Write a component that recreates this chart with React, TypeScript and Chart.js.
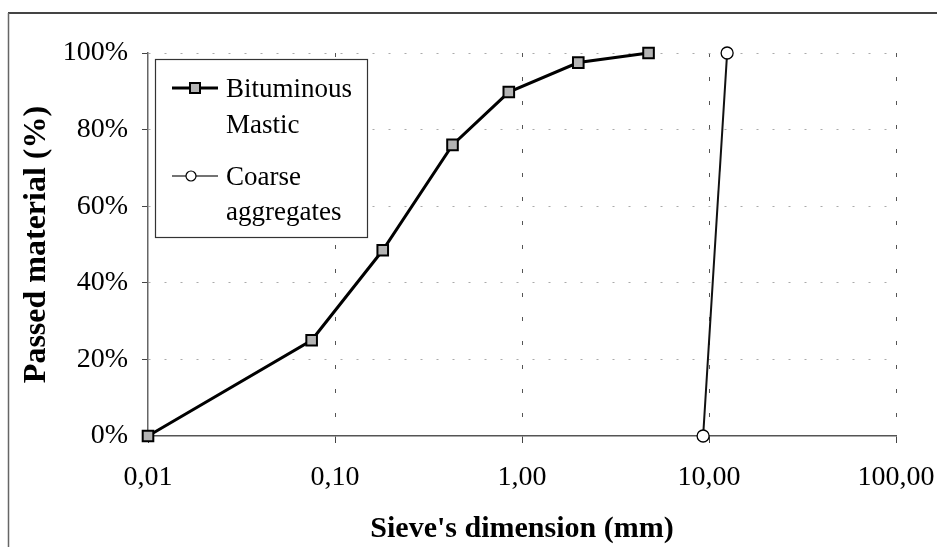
import React, { useEffect, useRef } from 'react';
import { Chart, registerables } from 'chart.js';

Chart.register(...registerables);

// ---- data ----
const seriesNames = ['Bituminous Mastic', 'Coarse aggregates'];
const legendLabels = [['Bituminous', 'Mastic'], ['Coarse', 'aggregates']];
const masticSizes = [0.01, 0.075, 0.18, 0.425, 0.85, 2.0, 4.75];
const masticPassed = [0, 25, 48.5, 76, 89.8, 97.5, 100];
const coarseSizes = [9.3, 12.5];
const coarsePassed = [0, 100];
const xTickValues = [0.01, 0.1, 1, 10, 100];
const yTickStep = 20;
const xTitle = "Sieve's dimension (mm)";
const yTitle = 'Passed material (%)';

const FONT = '"Liberation Serif", "Times New Roman", serif';

const frameAndLegend = {
  id: 'frameAndLegend',
  beforeDraw(chart: any) {
    const ctx = chart.ctx;
    ctx.save();
    ctx.strokeStyle = '#444';
    ctx.lineWidth = 2;
    ctx.beginPath();
    ctx.moveTo(8, 13);
    ctx.lineTo(chart.width, 13);
    ctx.stroke();
    ctx.lineWidth = 1.5;
    ctx.strokeStyle = '#666';
    ctx.beginPath();
    ctx.moveTo(8.5, 13);
    ctx.lineTo(8.5, chart.height);
    ctx.stroke();
    ctx.restore();
  },
  afterDraw(chart: any) {
    const ctx = chart.ctx;
    const a = chart.chartArea;
    const x0 = a.left + 7;
    const y0 = a.top + 6;
    const w = 212;
    const h = 178;
    ctx.save();
    ctx.fillStyle = '#fff';
    ctx.fillRect(x0, y0, w, h);
    ctx.strokeStyle = '#333';
    ctx.lineWidth = 1.2;
    ctx.strokeRect(x0 + 0.5, y0 + 0.5, w, h);

    // entry 1
    const ly1 = y0 + 29;
    ctx.strokeStyle = '#000';
    ctx.lineWidth = 3;
    ctx.beginPath();
    ctx.moveTo(x0 + 17, ly1);
    ctx.lineTo(x0 + 63, ly1);
    ctx.stroke();
    ctx.fillStyle = '#b4b4b4';
    ctx.fillRect(x0 + 35, ly1 - 5, 10, 10);
    ctx.lineWidth = 2;
    ctx.strokeRect(x0 + 35, ly1 - 5, 10, 10);

    // entry 2
    const ly2 = y0 + 117;
    ctx.strokeStyle = '#444';
    ctx.lineWidth = 1.5;
    ctx.beginPath();
    ctx.moveTo(x0 + 17, ly2);
    ctx.lineTo(x0 + 63, ly2);
    ctx.stroke();
    ctx.beginPath();
    ctx.arc(x0 + 36, ly2, 5, 0, Math.PI * 2);
    ctx.fillStyle = '#fff';
    ctx.fill();
    ctx.strokeStyle = '#000';
    ctx.lineWidth = 1.2;
    ctx.stroke();

    ctx.fillStyle = '#000';
    ctx.font = '27px ' + FONT;
    ctx.textBaseline = 'alphabetic';
    ctx.textAlign = 'left';
    const tx = x0 + 71;
    ctx.fillText(legendLabels[0][0], tx, y0 + 38);
    ctx.fillText(legendLabels[0][1], tx, y0 + 74);
    ctx.fillText(legendLabels[1][0], tx, y0 + 126);
    ctx.fillText(legendLabels[1][1], tx, y0 + 161);
    ctx.restore();
  },
};

export default function App() {
  const ref = useRef<HTMLCanvasElement | null>(null);

  useEffect(() => {
    if (!ref.current) return;
    const chart = new Chart(ref.current, {
      type: 'line',
      data: {
        datasets: [
          {
            label: seriesNames[0],
            data: masticSizes.map((x, i) => ({ x, y: masticPassed[i] })),
            borderColor: '#000',
            borderWidth: 3,
            pointStyle: 'rect',
            pointRadius: 7.5,
            pointBackgroundColor: '#b4b4b4',
            pointBorderColor: '#000',
            pointBorderWidth: 2,
            tension: 0,
            clip: false,
          },
          {
            label: seriesNames[1],
            data: coarseSizes.map((x, i) => ({ x, y: coarsePassed[i] })),
            borderColor: '#111',
            borderWidth: 2,
            pointStyle: 'circle',
            pointRadius: 6,
            pointBackgroundColor: '#fff',
            pointBorderColor: '#000',
            pointBorderWidth: 1.3,
            tension: 0,
            clip: false,
          },
        ],
      },
      options: {
        responsive: false,
        animation: false,
        devicePixelRatio: 1,
        layout: { padding: { left: 0, top: 53, right: 41, bottom: 0 } },
        plugins: {
          legend: { display: false },
          tooltip: { enabled: false },
        },
        scales: {
          x: {
            type: 'logarithmic',
            min: 0.01,
            max: 100,
            afterBuildTicks: (scale: any) => {
              scale.ticks = xTickValues.map((v) => ({ value: v, major: true }));
            },
            afterFit: (scale: any) => {
              scale.height = 111;
              scale.paddingLeft = 0;
              scale.paddingRight = 0;
            },
            ticks: {
              autoSkip: false,
              maxRotation: 0,
              color: '#000',
              font: { family: FONT, size: 28 },
              padding: 18,
              callback: (v: any) => Number(v).toFixed(2).replace('.', ','),
            },
            grid: {
              color: (c: any) => (c.index === 0 ? 'rgba(0,0,0,0)' : '#555'),
              lineWidth: 1,
              tickLength: 7,
              tickColor: '#444',
              tickBorderDash: [],
            },
            border: { display: true, color: '#555', width: 1.5, dash: [4, 20] },
            title: {
              display: true,
              text: xTitle,
              color: '#000',
              font: { family: FONT, size: 30, weight: 'bold' },
              padding: { top: 0, bottom: 0 },
            },
          },
          y: {
            type: 'linear',
            min: 0,
            max: 100,
            afterFit: (scale: any) => {
              scale.width = 148;
              scale.paddingTop = 0;
              scale.paddingBottom = 0;
            },
            ticks: {
              stepSize: yTickStep,
              color: '#000',
              font: { family: FONT, size: 28 },
              padding: 14,
              callback: (v: any) => v + '%',
            },
            grid: {
              color: (c: any) => (c.index === 0 ? 'rgba(0,0,0,0)' : '#aaa'),
              lineWidth: 1,
              tickLength: 6,
              tickColor: '#444',
              tickBorderDash: [],
            },
            border: { display: true, color: '#666', width: 1.5, dash: [2, 14] },
            title: {
              display: true,
              text: yTitle,
              color: '#000',
              font: { family: FONT, size: 32, weight: 'bold' },
              padding: { top: 18, bottom: 0 },
            },
          },
        },
      },
      plugins: [frameAndLegend],
    });
    return () => chart.destroy();
  }, []);

  return (
    <div style={{ position: 'fixed', left: 0, top: 0, width: 937, height: 547, background: '#fff' }}>
      <canvas ref={ref} width={937} height={547} style={{ display: 'block' }} />
    </div>
  );
}
